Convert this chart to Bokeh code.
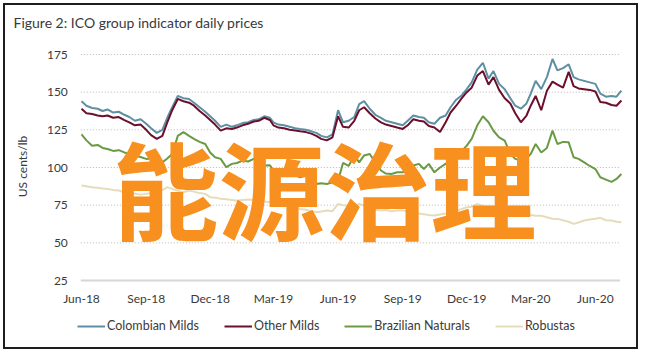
import math
import pandas as pd
from datetime import datetime
from bokeh.plotting import figure
from bokeh.models import Legend, LegendItem, Label, Range1d, ColumnDataSource
from bokeh.core.properties import value
from bokeh.embed import file_html
from bokeh.resources import INLINE

title_text = "Figure 2: ICO group indicator daily prices"
y_label = "US cents/lb"
watermark = "能源治理"
x_tick_labels = ["Jun-18", "Sep-18", "Dec-18", "Mar-19", "Jun-19",
                 "Sep-19", "Dec-19", "Mar-20", "Jun-20"]
y_ticks = [25, 50, 75, 100, 125, 150, 175]
series_names = ["Colombian Milds", "Other Milds", "Brazilian Naturals", "Robustas"]
series_colors = ["#5e8fa3", "#6b0f2c", "#6a9a44", "#e6dcbc"]

# weekly sample dates (1st, 8th, 16th, 24th of each month), Jun 2018 - Jul 2020
months = pd.date_range("2018-06-01", "2020-07-01", freq="MS")
dates = [m + pd.Timedelta(days=d - 1) for m in months for d in (1, 8, 16, 24)][:102]

colombian = [
    144, 141, 139.5, 139,      137.5, 138.5, 136.5, 137,   135, 133.5, 131, 132,
    129, 126, 123, 125,        133, 140, 147.5, 146,       145.5, 143, 140, 137,
    134, 131, 127, 128.5,      127, 128, 129.5, 130,       131.5, 132, 134, 133,
    130, 128.5, 128, 127,      126, 125.5, 125, 124,       123, 121, 120, 122,
    138, 130, 131, 133.5,      142, 144, 139, 135,         133, 131, 130, 129,
    128, 131, 134.5, 133.5,    133, 130, 129, 133,         134.5, 140, 145, 148,
    152, 156.5, 165, 169.5,    159, 164, 155.5, 152,       146, 141, 139, 142.5,
    149, 157.5, 152, 160,      172, 164.5, 166, 168.5,     160, 158.5, 157.5, 156.5,
    155.5, 149, 147, 147.5,    147, 151,
]
other_milds = [
    139, 136, 135.5, 134.5,    134, 134.5, 133, 133.5,     131.5, 130, 128, 128.5,
    125, 121.5, 119, 121,      130, 138, 145.5, 144,       143, 141, 137.5, 134.5,
    131.5, 128.5, 124.5, 126,  125.5, 126.5, 128, 129,     130.5, 131, 133, 131.5,
    128, 126.5, 126, 125,      124.5, 124, 123.5, 122.5,   121, 119, 118, 120,
    134, 127, 126.5, 131,      138, 140, 136, 132.5,       130, 128.5, 127.5, 126.5,
    125.6, 128, 132, 131,      130.5, 127.5, 126.5, 123.5, 130, 136.5, 141, 146,
    150, 153, 161, 164,        155, 160, 151.5, 146,       142.5, 136, 130, 134.5,
    141, 147.5, 138, 151,      157, 155, 153, 163.5,       154, 152.5, 152, 151.5,
    150.5, 143.5, 143, 141.5,  141, 144.5,
]
brazilian = [
    122, 118, 114.5, 115,      113, 112.3, 111, 111.5,     110, 109, 107.9, 107,
    105.7, 106, 104, 103.4,    106, 109, 121, 123.5,       121, 119, 117, 115.6,
    110, 106.8, 105.7, 100.2,  102.4, 103, 104.6, 104,     105.7, 106.8, 101.3, 101.5,
    98, 97, 95.7, 96.8,        95, 93.5, 94.6, 91,         89.1, 89.5, 89.1, 90.2,
    91.3, 103, 101, 108,       103.4, 108, 109, 103.4,     98, 96, 95.7, 96.8,
    96.8, 99, 101.3, 102.4,    99, 102.4, 96.8, 100,       102.4, 105.7, 108, 111,
    114.5, 119, 128, 134,      130, 124.4, 120, 117.8,     109, 105.7, 104.6, 106,
    109, 115.6, 110, 113,      124.5, 115.6, 117, 116.7,   106.8, 105.7, 103.4, 101,
    99, 93.5, 92, 90.5,        92.4, 95.7,
]
robustas = [
    88, 87.5, 86.9, 86.5,      86, 85.8, 85, 84.7,         83.5, 82.5, 82.8, 82,
    82.5, 83, 84, 85,          87, 85.8, 84.5, 83.6,       84.7, 84, 83, 82.5,
    80.3, 80, 79.2, 79,        78.5, 78, 78.5, 78.8,       78.5, 78, 77.5, 77,
    76.5, 76, 75.5, 74.7,      73.5, 72.5, 72, 71,         70.3, 70.8, 71.4, 71,
    75.8, 75, 74.7, 74,        75.8, 74.7, 73.5, 72,       71.4, 71.8, 71, 71.5,
    71.4, 70.8, 70.3, 69.5,    69, 68.5, 68.1, 68.8,       69.5, 70.3, 71, 72.5,
    73.6, 74, 75.8, 74.5,      73, 72, 71, 70.5,           70, 69.5, 69, 68.5,
    68.5, 68, 68, 67,          66, 65.9, 65, 64,           62.6, 63.5, 64.8, 65.5,
    66, 66.6, 65, 64.8,        64, 63.7,
]

FONT = "Lato"
TXT = "#3a3a3a"

# ---- layout constants (pixels inside the bordered canvas) ----
W, H = 635, 346
PX_PER_DAY = 0.703
X0_PX = 76            # pixel of 2018-06-01
PX_PER_UNIT = 226 / 150
Y25_PX = 275          # pixel (from top) of value 25
origin = pd.Timestamp("2018-06-01")
x_start = origin - pd.Timedelta(days=X0_PX / PX_PER_DAY)
x_end = origin + pd.Timedelta(days=(W - X0_PX) / PX_PER_DAY)
y_start = 25 - (H - Y25_PX) / PX_PER_UNIT
y_end = 25 + Y25_PX / PX_PER_UNIT
grid_start = origin - pd.Timedelta(days=1)
grid_end = pd.Timestamp("2020-07-06")

p = figure(width=W, height=H, output_backend="svg", toolbar_location=None,
           x_range=Range1d(x_start, x_end), y_range=Range1d(y_start, y_end),
           x_axis_location=None, y_axis_location=None,
           min_border=0, min_border_left=0, min_border_right=0,
           min_border_top=0, min_border_bottom=0)
p.styles = {"border": "2px solid #1e1e1e", "margin": "3px 0 0 3px"}
p.outline_line_color = None
p.grid.visible = False
p.background_fill_color = "white"
p.border_fill_color = "white"

# gridlines (dotted) and base axis line
n = len(y_ticks) - 1
p.segment(x0=[grid_start] * n, x1=[grid_end] * n, y0=y_ticks[1:], y1=y_ticks[1:],
          line_color="#b8b8b8", line_dash="1 2", line_width=1)
p.segment(x0=[grid_start], x1=[grid_end], y0=[y_ticks[0]], y1=[y_ticks[0]],
          line_color="#d6d6d6", line_width=2)

# tick labels
tick_dates = [datetime.strptime(l, "%b-%y") for l in x_tick_labels]
p.text(x=tick_dates, y=[y_ticks[0]] * len(tick_dates), text=x_tick_labels,
       y_offset=18, text_align="center", text_baseline="middle",
       text_font=value(FONT), text_font_size="12px", text_color=TXT)
p.text(x=[grid_start] * len(y_ticks), y=y_ticks, text=[str(t) for t in y_ticks],
       x_offset=-13, text_align="right", text_baseline="middle",
       text_font=value(FONT), text_font_size="12px", text_color=TXT)

# series
src = ColumnDataSource(dict(date=dates, c=colombian, o=other_milds,
                            b=brazilian, r=robustas))
r_rob = p.line("date", "r", source=src, line_color=series_colors[3], line_width=2)
r_bra = p.line("date", "b", source=src, line_color=series_colors[2], line_width=2)
r_col = p.line("date", "c", source=src, line_color=series_colors[0], line_width=2)
r_oth = p.line("date", "o", source=src, line_color=series_colors[1], line_width=2)

# title and axis label
p.add_layout(Label(x=8, y=H - 17, x_units="screen", y_units="screen",
                   text=title_text, text_font=FONT, text_font_size="14px",
                   text_color=TXT, text_align="left", text_baseline="middle"))
p.add_layout(Label(x=17, y=H - 161, x_units="screen", y_units="screen",
                   text=y_label, angle=math.pi / 2, text_font=FONT,
                   text_font_size="12px", text_color=TXT,
                   text_align="center", text_baseline="middle"))

# legend
legend = Legend(items=[LegendItem(label=nm, renderers=[r]) for nm, r in
                       zip(series_names, [r_col, r_oth, r_bra, r_rob])],
                orientation="horizontal", location=(72, 18),
                label_text_font=FONT, label_text_font_size="12.5px",
                label_text_color=TXT, glyph_width=28, glyph_height=14,
                label_standoff=2, spacing=25, padding=0, margin=0,
                border_line_color=None, background_fill_alpha=0)
p.add_layout(legend, "center")

# watermark
p.add_layout(Label(x=319, y=H - 180, x_units="screen", y_units="screen",
                   text=watermark, text_font="Noto Sans CJK SC",
                   text_font_style="bold", text_font_size="106px",
                   text_color="#f7901e", text_align="center",
                   text_baseline="middle"))

open("out.html", "w").write(file_html(p, INLINE))
